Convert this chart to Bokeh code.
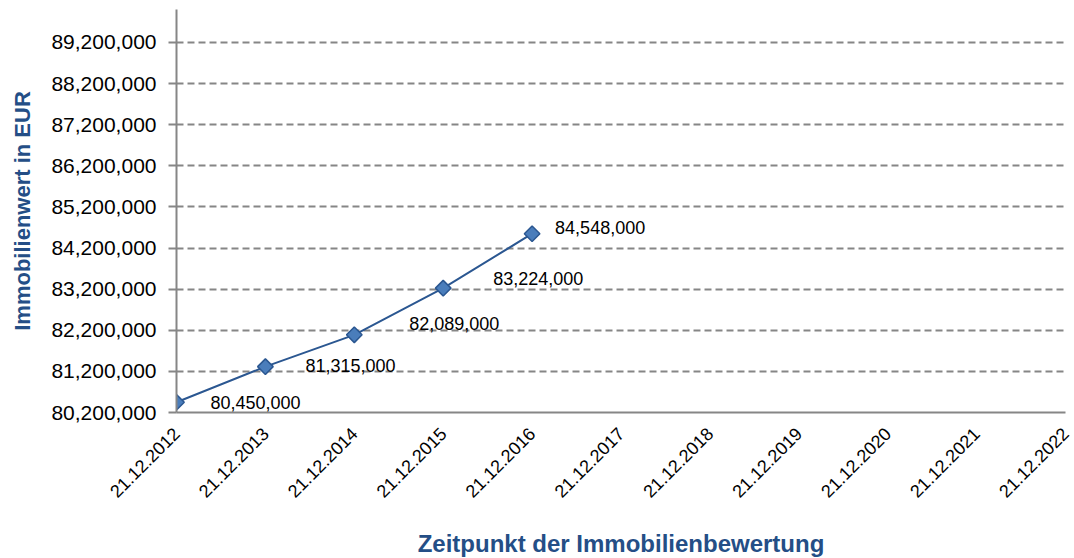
import math
from bokeh.plotting import figure
from bokeh.models import (ColumnDataSource, Range1d, FixedTicker, NumeralTickFormatter,
                          LabelSet)
from bokeh.core.properties import value
from bokeh.embed import file_html
from bokeh.resources import INLINE

# ---- data ----
dates = ["21.12.2012", "21.12.2013", "21.12.2014", "21.12.2015", "21.12.2016",
         "21.12.2017", "21.12.2018", "21.12.2019", "21.12.2020", "21.12.2021",
         "21.12.2022"]
values = [80450000, 81315000, 82089000, 83224000, 84548000]
value_labels = ["80,450,000", "81,315,000", "82,089,000", "83,224,000", "84,548,000"]
y_ticks = [80200000, 81200000, 82200000, 83200000, 84200000,
           85200000, 86200000, 87200000, 88200000, 89200000]
y_min, y_max = 80200000, 90000000

# ---- styles ----
label_dx = [34, 40, 55, 50, 23]
label_dy = [0, 1, 11, 10, 6]
AXIS_GREY = "#868686"
TITLE_BLUE = "#244E86"
LINE_BLUE = "#2B5791"
MARK_FILL = "#4A7DBB"
FONT = "Liberation Sans"

x_idx = list(range(len(values)))
src = ColumnDataSource(dict(x=x_idx, y=values, lab=value_labels,
                            dx=label_dx, dy=label_dy))

p = figure(frame_width=889, frame_height=403, output_backend="svg", toolbar_location=None,
           x_range=Range1d(0, len(dates) - 1), y_range=Range1d(y_min, y_max),
           min_border_left=176, min_border_right=9, min_border_top=9,
           min_border_bottom=140)
p.outline_line_color = None
p.background_fill_color = "white"
p.border_fill_color = "white"

# grid
p.xgrid.grid_line_color = None
p.ygrid.ticker = FixedTicker(ticks=y_ticks)
p.ygrid.grid_line_color = AXIS_GREY
p.ygrid.grid_line_width = 2
p.ygrid.grid_line_dash = "7 4"

# y axis
p.yaxis.ticker = FixedTicker(ticks=y_ticks)
p.yaxis.formatter = NumeralTickFormatter(format="0,0")
p.yaxis.axis_line_color = AXIS_GREY
p.yaxis.axis_line_width = 2
p.yaxis.major_tick_line_color = AXIS_GREY
p.yaxis.major_tick_line_width = 2
p.yaxis.major_tick_out = 8
p.yaxis.major_tick_in = 0
p.yaxis.minor_tick_line_color = None
p.yaxis.major_label_text_font = FONT
p.yaxis.major_label_text_font_size = "21px"
p.yaxis.major_label_text_color = "black"
p.yaxis.major_label_standoff = 12
p.yaxis.axis_label = "Immobilienwert in EUR"
p.yaxis.axis_label_text_font = FONT
p.yaxis.axis_label_text_font_style = "bold"
p.yaxis.axis_label_text_font_size = "22px"
p.yaxis.axis_label_text_color = TITLE_BLUE
p.yaxis.axis_label_standoff = 13

# x axis
p.xaxis.ticker = FixedTicker(ticks=list(range(len(dates))))
p.xaxis.major_label_overrides = {i: d for i, d in enumerate(dates)}
p.xaxis.axis_line_color = AXIS_GREY
p.xaxis.axis_line_width = 2
p.xaxis.major_tick_line_color = None
p.xaxis.major_tick_out = 0
p.xaxis.major_tick_in = 0
p.xaxis.minor_tick_line_color = None
p.xaxis.major_label_orientation = math.pi / 4
p.xaxis.major_label_text_font = FONT
p.xaxis.major_label_text_font_size = "18px"
p.xaxis.major_label_text_color = "black"
p.xaxis.major_label_standoff = 18
p.xaxis.axis_label = "Zeitpunkt der Immobilienbewertung"
p.xaxis.axis_label_text_font = FONT
p.xaxis.axis_label_text_font_style = "bold"
p.xaxis.axis_label_text_font_size = "24px"
p.xaxis.axis_label_text_color = TITLE_BLUE
p.xaxis.axis_label_standoff = 24

# series
p.line("x", "y", source=src, line_color=LINE_BLUE, line_width=2)
p.scatter("x", "y", source=src, marker="square", angle=math.pi / 4, size=11,
          fill_color=MARK_FILL, line_color=LINE_BLUE, line_width=1.5)

labels = LabelSet(x="x", y="y", text="lab", source=src, x_offset="dx", y_offset="dy",
                  text_align="left", text_baseline="middle",
                  text_font=value(FONT), text_font_size="18px", text_color="black")
p.add_layout(labels)

open("out.html", "w").write(file_html(p, INLINE))
